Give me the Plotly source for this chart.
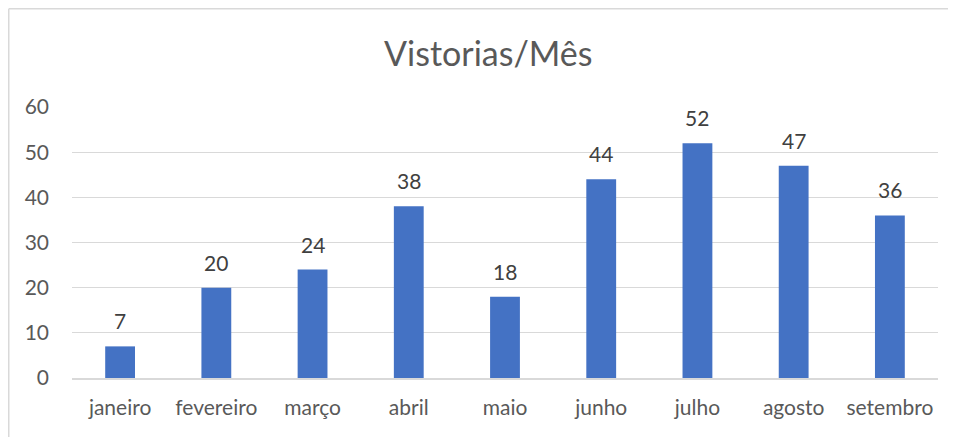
import plotly.graph_objects as go

months = ["janeiro", "fevereiro", "março", "abril", "maio", "junho", "julho", "agosto", "setembro"]
values = [7, 20, 24, 38, 18, 44, 52, 47, 36]
title = "Vistorias/Mês"
y_ticks = [0, 10, 20, 30, 40, 50, 60]

# page has an 8px body margin; work in page pixels and convert
OFF = 8
W, H = 956 - OFF, 437 - OFF
L_PAGE, R_PAGE, T_PAGE, B_PAGE = 72, 938, 107, 378
ML = L_PAGE - OFF
MR = W - (R_PAGE - OFF)
MT = T_PAGE - OFF
MB = H - (B_PAGE - OFF)
PW, PH = W - ML - MR, H - MT - MB

def px_x(p):
    return (p - OFF - ML) / PW

def px_y(p):
    return 1 - (p - OFF - MT) / PH

FONT = "Lato"
fig = go.Figure(go.Bar(x=months, y=values, marker_color="#4472C4", marker_line_width=0, width=0.31))

for m, v in zip(months, values):
    fig.add_annotation(x=m, y=v, text=str(v), showarrow=False, yanchor="bottom", yshift=11,
                       font=dict(family=FONT, size=21, color="#404040"))

fig.add_annotation(xref="paper", yref="paper", x=px_x(488), y=px_y(52), text=title, showarrow=False,
                   xanchor="center", yanchor="middle", font=dict(family=FONT, size=34, color="#595959"))

# chart border
fig.add_shape(type="line", xref="paper", yref="paper", x0=px_x(8.75), y0=px_y(8.75), x1=px_x(960), y1=px_y(8.75),
              line=dict(color="#d9d9d9", width=1.5))
fig.add_shape(type="line", xref="paper", yref="paper", x0=px_x(8.75), y0=px_y(8.75), x1=px_x(8.75), y1=px_y(440),
              line=dict(color="#d9d9d9", width=1.5))

fig.update_layout(
    width=W, height=H, margin=dict(l=ML, r=MR, t=MT, b=MB),
    paper_bgcolor="white", plot_bgcolor="white", showlegend=False,
    bargap=0.69,
    xaxis=dict(showgrid=False, showline=True, linecolor="#d9d9d9", linewidth=1.5, ticks="",
               ticklabelstandoff=10,
               tickfont=dict(family=FONT, size=21, color="#595959"), fixedrange=True),
    yaxis=dict(range=[0, 60], tickvals=y_ticks, showgrid=True, gridcolor="#d9d9d9", gridwidth=1,
               zeroline=False, showline=False, ticks="", ticklabelstandoff=22,
               tickfont=dict(family=FONT, size=21, color="#595959"), fixedrange=True),
)
fig.write_html("out.html")
